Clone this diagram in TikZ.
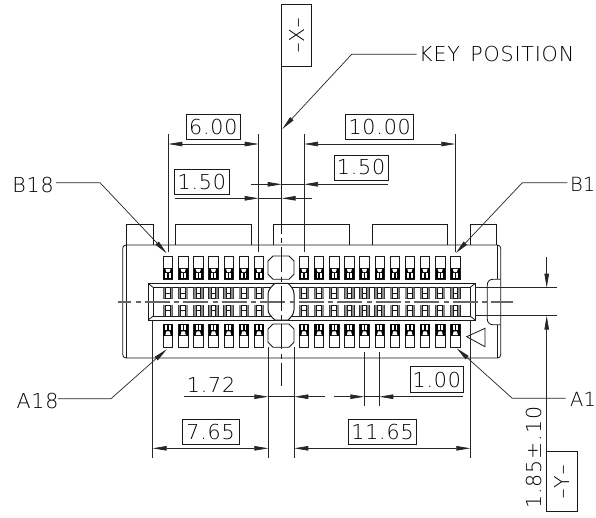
\documentclass[tikz,border=0pt]{standalone}
\usepackage{fontspec}
\setmainfont{DejaVu Sans ExtraLight}
\newfontfamily\cadfont[LetterSpace=4]{DejaVu Sans ExtraLight}
\usetikzlibrary{arrows.meta}
\newcommand{\longbar}{\scalebox{1.5}[1]{-}}
\tikzset{
  x=1pt,y=-1pt,
  cad/.style={line width=0.8pt,black!90},
  dimline/.style={line width=0.7pt,black!85,{Stealth[length=14pt,width=4.5pt,inset=0pt]}-{Stealth[length=14pt,width=4.5pt,inset=0pt]}},
  tipend/.style={line width=0.7pt,black!85,-{Stealth[length=14pt,width=4.5pt,inset=0pt]}},
  plainline/.style={line width=0.7pt,black!85},
  extline/.style={line width=0.8pt,black!85},
  label/.style={inner sep=0pt,font=\cadfont\fontsize{20.6}{24}\selectfont,black},
  shortlabel/.style={inner sep=0pt,font=\fontsize{19.5}{24}\selectfont,black},
  dimbox/.style={draw=black!90,line width=0.8pt,fill=white,inner sep=0pt,font=\cadfont\fontsize{20.6}{24}\selectfont,text=black},
  centre/.style={line width=1.1pt,black!60,dash pattern=on 25pt off 4.5pt on 5pt off 4pt}
}
\newcommand{\pinA}[1]{%
  \begin{scope}[xshift=#1pt]
    \draw[cad,fill=white] (-4.7,256) rectangle (4.7,279.3);
    \fill[black] (-4.7,267.5) rectangle (4.7,279.3);
    \fill[white] (-2.6,268.8) -- (2.6,268.8) -- (1.6,272) -- (-1.6,272) -- cycle;
    \fill[white] (-2.6,273.4) rectangle (-0.7,278);
    \fill[white] (0.7,273.4) rectangle (2.6,278);
  \end{scope}}
\newcommand{\pinB}[1]{%
  \begin{scope}[xshift=#1pt]
    \draw[cad,fill=white] (-4.7,324) rectangle (4.7,347.3);
    \fill[black] (-4.7,324) rectangle (4.7,335.8);
    \fill[white] (-2.6,335) -- (2.6,335) -- (1.6,331.3) -- (-1.6,331.3) -- cycle;
    \fill[white] (-2.6,325.4) rectangle (-0.7,330);
    \fill[white] (0.7,325.4) rectangle (2.6,330);
  \end{scope}}
\newcommand{\pinC}[1]{%
  \begin{scope}[xshift=#1pt]
    \draw[line width=1pt,black!90,fill=white] (-4.7,287.5) rectangle (4.7,298.7);
    \fill[black!45] (-4.7,287.5) rectangle (-2.3,298.7) (2.3,287.5) rectangle (4.7,298.7);
    \draw[line width=1pt,black!90] (-2.3,287.5) -- (-2.3,298.7) (2.3,287.5) -- (2.3,298.7) (-2.3,293.5) -- (2.3,293.5);
    \draw[line width=1pt,black!90,fill=white] (-4.7,305) rectangle (4.7,316);
    \fill[black!45] (-4.7,305) rectangle (-2.3,316) (2.3,305) rectangle (4.7,316);
    \draw[line width=1pt,black!90] (-2.3,305) -- (-2.3,316) (2.3,305) -- (2.3,316) (-2.3,310) -- (2.3,310);
  \end{scope}}
\begin{document}
\begin{tikzpicture}
\useasboundingbox (0,0) rectangle (596,517);
\fill[white] (0,0) rectangle (596,517);

% tabs on the upper edge
\draw[cad] (126.3,245) -- (126.3,224.3) -- (153,224.3) -- (153,245);
\draw[cad] (175.3,245) -- (175.3,224.3) -- (251.3,224.3) -- (251.3,245);
\draw[cad] (273.7,245) -- (273.7,224.3) -- (349.3,224.3) -- (349.3,245);
\draw[cad] (372.3,245) -- (372.3,224.3) -- (447.7,224.3) -- (447.7,245);
\draw[cad] (470.3,245) -- (470.3,224.3) -- (496.7,224.3) -- (496.7,245);

% housing
\draw[cad] (126,245) -- (497.3,245) .. controls (499.5,245) and (500.7,246.5) .. (500.7,248.5)
  -- (500.7,354.5) .. controls (500.7,356.5) and (499.5,358) .. (497.3,358)
  -- (126,358) .. controls (124,358) and (122.7,356.5) .. (122.7,354.5)
  -- (122.7,248.5) .. controls (122.7,246.5) and (124,245) .. (126,245);
\draw[cad] (126,245) -- (126,358);
\draw[cad] (497.3,245) -- (497.3,279.3) (497.3,324.7) -- (497.3,358);

% notch on the right
\draw[cad] (500.7,279.3) -- (493,279.3) .. controls (489.5,279.3) and (487.3,281.5) .. (487.3,285)
  -- (487.3,319) .. controls (487.3,322.5) and (489.5,324.7) .. (493,324.7) -- (500.7,324.7);

% triangle
\draw[cad] (466.7,336.7) -- (485,328.3) -- (485,346.7) -- cycle;

% slot
\draw[line width=1pt,black!90] (148,283.3) rectangle (475.3,320);
\draw[line width=1pt,black!90] (153,287.3) rectangle (470.3,316.3);
\draw[cad] (148,283.3) -- (153,287.3) (475.3,283.3) -- (470.3,287.3) (148,320) -- (153,316.3) (475.3,320) -- (470.3,316.3);

% contacts
\foreach \px in {168,183.2,198.3,213.5,228.6,243.8,258.9,304,319.1,334.2,349.4,364.5,379.6,394.8,409.9,425,440.2,455.3}{
  \pinA{\px}\pinB{\px}\pinC{\px}
}

% key windows
\draw[cad,fill=white] (273,256) -- (289,256) -- (294,261) -- (294,274.3) -- (289,279.3) -- (273,279.3) -- (268,274.3) -- (268,261) -- cycle;
\draw[cad,fill=white] (273,324) -- (289,324) -- (294,329) -- (294,342.3) -- (289,347.3) -- (273,347.3) -- (268,342.3) -- (268,329) -- cycle;
\draw[line width=1pt,black!90,fill=white] (275,283.3) -- (288,283.3) .. controls (291,286) and (294,289.5) .. (294,294)
  -- (294,309.5) .. controls (294,314) and (291,317.5) .. (288,320) -- (275,320)
  .. controls (272,317.5) and (268,314) .. (268,309.5) -- (268,294) .. controls (268,289.5) and (272,286) .. (275,283.3) -- cycle;

% centre lines
\draw[centre,dash phase=11.8pt] (118,302) -- (513,302);
\draw[cad] (281.7,66) -- (281.7,234);
\draw[cad,dash pattern=on 5pt off 4pt on 25pt off 4.5pt] (281.7,238) -- (281.7,386);

% datum boxes
\node (datumX) [dimbox,rotate=90,minimum width=61.7pt,minimum height=30pt] at (296.7,35.1) {\longbar X\longbar};
\node (datumY) [dimbox,rotate=90,minimum width=60pt,minimum height=30.3pt] at (561.8,481.7) {\longbar Y\longbar};

% extension lines
\foreach \ex/\ya/\yb in {168.3/134/252,258.7/134/252,304/134/252,455.3/134/252,
  152.7/320/457.7,268.3/347/457.7,294.3/347/457.7,470.3/320/457.7,364.3/352/405.7,379.3/352/405.7}{
  \draw[extline] (\ex,\ya) -- (\ex,\yb);
}
\draw[extline] (475.3,287.7) -- (556.7,287.7) (475.3,315.7) -- (556.7,315.7);

% named dimension anchors
\coordinate (d6a) at (168.3,144);   \coordinate (d6b) at (258.7,144);
\coordinate (d10a) at (304,144);    \coordinate (d10b) at (455.3,144);
\coordinate (u1s) at (251,184.3);   \coordinate (u1t) at (281.7,184.3);
\coordinate (u2t) at (304,184.3);   \coordinate (u2s) at (388,184.3);
\coordinate (v1s) at (174.7,198.3); \coordinate (v1t) at (258.7,198.3);
\coordinate (v2t) at (281.7,198.3); \coordinate (v2s) at (311.7,198.3);
\coordinate (w1s) at (184,396.7);   \coordinate (w1t) at (268.3,396.7);
\coordinate (w2t) at (294.3,396.7); \coordinate (w2s) at (325,396.7);
\coordinate (p1s) at (334,396.7);   \coordinate (p1t) at (364.3,396.7);
\coordinate (p2t) at (379.3,396.7); \coordinate (p2s) at (463.3,396.7);
\coordinate (e1a) at (152.7,448.3); \coordinate (e1b) at (268.3,448.3);
\coordinate (e2a) at (294.3,448.3); \coordinate (e2b) at (470.3,448.3);
\coordinate (h1s) at (546.7,257.3); \coordinate (h1t) at (546.7,287.7);
\coordinate (h2t) at (546.7,315.7);

\draw[dimline] (d6a) -- (d6b);
\draw[dimline] (d10a) -- (d10b);
\draw[plainline] (u1t) -- (u2t) (v1t) -- (v2t) (w1t) -- (w2t) (p1t) -- (p2t);
\draw[tipend] (u1s) -- (u1t);
\draw[tipend] (u2s) -- (u2t);
\draw[tipend] (v1s) -- (v1t);
\draw[tipend] (v2s) -- (v2t);
\draw[tipend] (w1s) -- (w1t);
\draw[tipend] (w2s) -- (w2t);
\draw[tipend] (p1s) -- (p1t);
\draw[tipend] (p2s) -- (p2t);
\draw[dimline] (e1a) -- (e1b);
\draw[dimline] (e2a) -- (e2b);
\draw[tipend] (h1s) -- (h1t);

% dimension labels
\node (t600) [dimbox,minimum width=54.7pt,minimum height=24.6pt] at (213.3,127) {6.00};
\node (t1000) [dimbox,minimum width=68pt,minimum height=24.6pt] at (379.7,127) {10.00};
\node (t150r) [dimbox,minimum width=54pt,minimum height=25pt] at (361,167.5) {1.50};
\node (t150l) [dimbox,minimum width=54.3pt,minimum height=24.7pt] at (201.8,181.6) {1.50};
\node (t100) [dimbox,minimum width=53.7pt,minimum height=25.6pt] at (436.8,379.5) {1.00};
\node (t765) [dimbox,minimum width=56.7pt,minimum height=25pt] at (210.6,431.5) {7.65};
\node (t1165) [dimbox,minimum width=68.4pt,minimum height=25pt] at (382.5,431.5) {11.65};
\node (t172) [label] at (211,384.5) {1.72};
\node (t185) [label,rotate=90] at (534.3,457.5) {1.85±.10};

\draw[tipend] (h2t |- datumY.east) -- (h2t);

% leaders
\node (key) [label,anchor=west] at (419,54.3) {KEY\ \hspace{3pt}POSITION};
\node (b18) [label] at (33,185) {B18};
\node (a18) [label] at (37.5,400.7) {A18};
\node (b1) [shortlabel,anchor=west] at (570,184) {B1};
\node (a1) [shortlabel,anchor=west] at (570,399) {A1};

\coordinate (kk) at (351.7,54.3); \coordinate (kt) at (282.3,129);
\coordinate (b18k) at (100,182.7); \coordinate (b18t) at (166.7,253.3);
\coordinate (a18k) at (111,398.7); \coordinate (a18t) at (166.7,349.3);
\coordinate (b1k) at (522.3,182.7); \coordinate (b1t) at (455.7,253.3);
\coordinate (a1k) at (512.3,398.3); \coordinate (a1t) at (456.7,348.3);

\draw[tipend] (416.7,54.3) -- (kk) -- (kt);
\draw[tipend] (56,182.7) -- (b18k) -- (b18t);
\draw[tipend] (58,398.7) -- (a18k) -- (a18t);
\draw[tipend] (567.3,182.7) -- (b1k) -- (b1t);
\draw[tipend] (565.7,398.3) -- (a1k) -- (a1t);
\end{tikzpicture}
\end{document}
